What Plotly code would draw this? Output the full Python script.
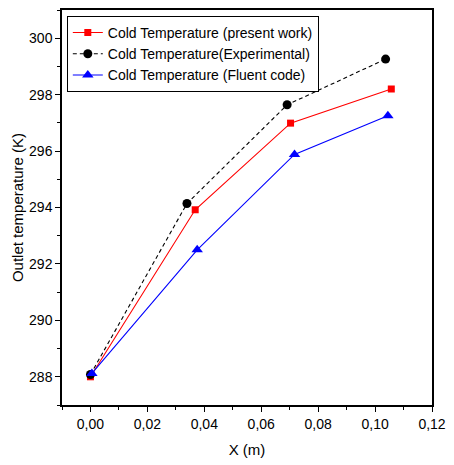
import plotly.graph_objects as go

x_present = [0.0, 0.0368, 0.0703, 0.1057]
t_present = [288.0, 293.92, 296.99, 298.2]
x_exp = [0.0, 0.0339, 0.0691, 0.1037]
t_exp = [288.08, 294.14, 297.64, 299.26]
x_fluent = [0.0005, 0.0375, 0.0717, 0.1045]
t_fluent = [288.12, 292.5, 295.88, 297.25]

names = ["Cold Temperature (present work)", "Cold Temperature(Experimental)", "Cold Temperature (Fluent code)"]

FONT = "Liberation Sans Narrow, Arial Narrow, Liberation Sans, Arial, sans-serif"

fig = go.Figure()
fig.add_trace(go.Scatter(x=x_present, y=t_present, name=names[0], mode="lines+markers",
                         line=dict(color="#ff0000", width=1.1),
                         marker=dict(symbol="square", size=7, color="#ff0000")))
fig.add_trace(go.Scatter(x=x_exp, y=t_exp, name=names[1], mode="lines+markers",
                         line=dict(color="#000000", width=1.1, dash="4px,3px"),
                         marker=dict(symbol="circle", size=9, color="#000000")))
fig.add_trace(go.Scatter(x=x_fluent, y=t_fluent, name=names[2], mode="lines+markers",
                         line=dict(color="#0000ff", width=1.1),
                         marker=dict(symbol="triangle-up", size=10, color="#0000ff")))

fig.update_layout(
    width=454, height=465,
    margin=dict(l=62, r=17, t=8, b=60),
    paper_bgcolor="white", plot_bgcolor="white",
    separators=",.",
    font=dict(family=FONT, size=14, color="black"),
    legend=dict(x=0.013, y=0.985, xanchor="left", yanchor="top",
                bordercolor="black", borderwidth=1, bgcolor="white",
                font=dict(family=FONT, size=14), tracegroupgap=0, itemwidth=30),
    showlegend=True,
)
fig.update_xaxes(range=[-0.01, 0.12], dtick=0.02, tick0=0, tickformat=".2f",
                 ticks="outside", ticklen=5, tickcolor="black",
                 minor=dict(dtick=0.01, ticks="outside", ticklen=3, tickcolor="black"),
                 showline=True, linecolor="black", linewidth=1.5, mirror=True,
                 showgrid=False, zeroline=False,
                 title=dict(text="X (m)", font=dict(size=15), standoff=14))
fig.update_yaxes(range=[287, 301], dtick=2, tick0=288,
                 ticks="outside", ticklen=5, tickcolor="black",
                 minor=dict(dtick=1, ticks="outside", ticklen=3, tickcolor="black"),
                 showline=True, linecolor="black", linewidth=1.5, mirror=True,
                 showgrid=False, zeroline=False,
                 title=dict(text="Outlet temperature (K)", font=dict(size=15), standoff=2))

fig.write_html("out.html")
